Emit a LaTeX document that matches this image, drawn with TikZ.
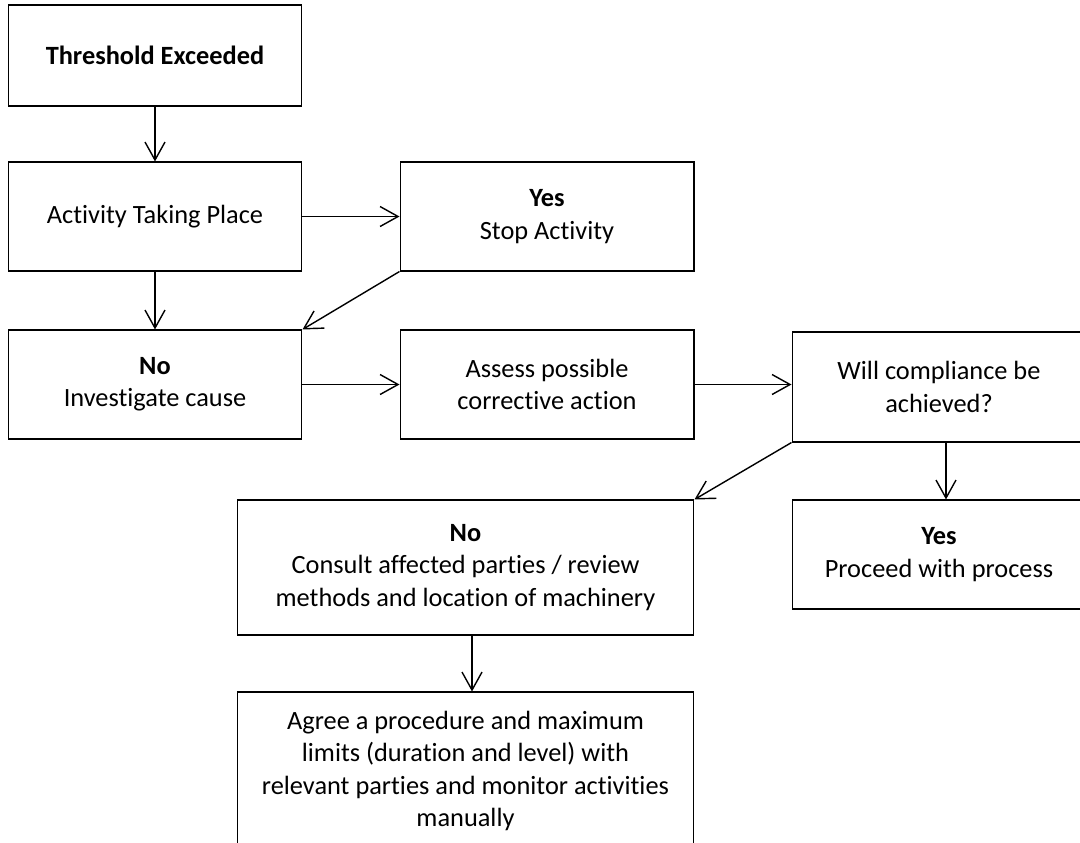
\documentclass[tikz,border=0pt]{standalone}
\usepackage{fontspec}
\setmainfont{Carlito}[Ligatures=NoCommon]
\usetikzlibrary{arrows.meta}

\begin{document}
\begin{tikzpicture}[
    x = 0.02cm,
    y = -0.02cm,
    line width = 0.6pt,
    >={Straight Barb[length=0.36cm, width=0.4cm]},
    stepbox/.style = {
      draw,
      rectangle,
      align = center,
      inner sep = 0pt,
      minimum width = 5.88cm,
      minimum height = 2.18cm,
      font = \fontsize{15}{18.3}\selectfont
    },
    link/.style = {
      ->,
      line width = 0.8pt
    }
  ]
  \useasboundingbox (0,0) rectangle (1080,843);

  % first column
  \node[stepbox, minimum height = 2.02cm] (thr) at (155,55.5) {\textbf{Threshold Exceeded}};
  \node[stepbox] (act) at (155,216.5) {Activity Taking Place};
  \node[stepbox] (inv) at (155,384.5) {\textbf{No}\\Investigate cause};

  % second column
  \node[stepbox] (stop) at (547,216.5) {\textbf{Yes}\\Stop Activity};
  \node[stepbox] (ass) at (547,384.5) {Assess possible\\corrective action};

  % third column
  \node[stepbox, minimum height = 2.2cm] (will) at (939,387) {Will compliance be\\achieved?};
  \node[stepbox] (proc) at (939,554.5) {\textbf{Yes}\\Proceed with process};

  % bottom
  \node[stepbox, minimum width = 9.14cm, minimum height = 2.7cm] (cons) at (465.5,567.5)
    {\textbf{No}\\Consult affected parties / review\\methods and location of machinery};
  \node[stepbox, minimum width = 9.14cm, minimum height = 3.16cm] (agr) at (465.5,771)
    {Agree a procedure and maximum\\limits (duration and level) with\\relevant parties and monitor activities\\manually};

  \draw[link] (thr) -- (act);
  \draw[link] (act) -- (stop);
  \draw[link] (act) -- (inv);
  \draw[link] (stop.south west) -- (inv.north east);
  \draw[link] (inv) -- (ass);
  \draw[link] (ass.east) -- (ass.east -| will.west);
  \draw[link] (will.south west) -- (cons.north east);
  \draw[link] ([xshift=0.14cm]will.south) -- ([xshift=0.14cm]proc.north);
  \draw[link] ([xshift=0.13cm]cons.south) -- ([xshift=0.13cm]agr.north);
\end{tikzpicture}
\end{document}
